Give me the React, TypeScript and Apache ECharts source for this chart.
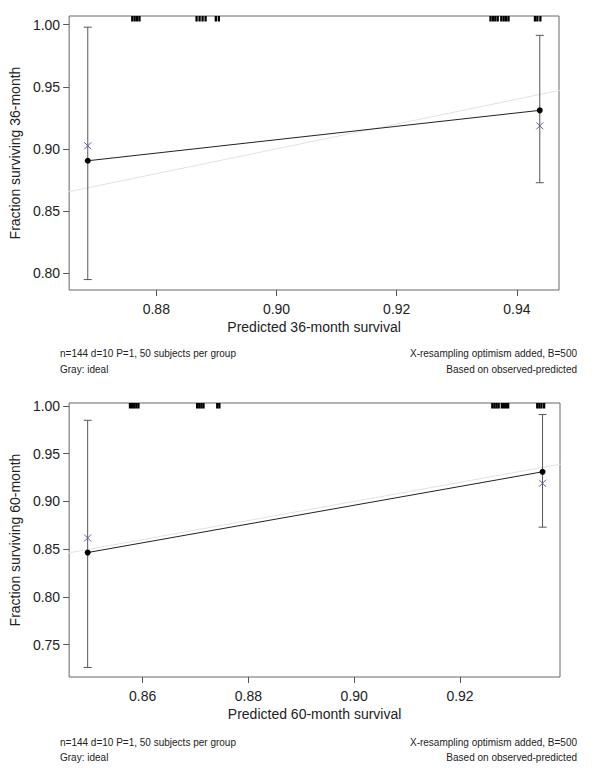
import React, { useEffect, useRef } from "react";
import * as echarts from "echarts";

// ---- Plot 1: 36-month ----
const predicted36 = [0.8686, 0.9438];
const observed36 = [0.8904, 0.931];
const corrected36 = [0.9025, 0.9185];
const lower36 = [0.7947, 0.8727];
const upper36 = [0.998, 0.9914];
const rug36 = [0.876, 0.8764, 0.8768, 0.8772, 0.8867, 0.8872, 0.8877, 0.8882, 0.8899, 0.8904, 0.9356, 0.936, 0.9364, 0.9368, 0.9374, 0.9378, 0.9382, 0.9386, 0.943, 0.9434, 0.9439];
const xTicks36 = [0.88, 0.9, 0.92, 0.94];
const yTicks36 = [0.8, 0.85, 0.9, 0.95, 1.0];

// ---- Plot 2: 60-month ----
const predicted60 = [0.8496, 0.9356];
const observed60 = [0.8464, 0.931];
const corrected60 = [0.8616, 0.919];
const lower60 = [0.726, 0.873];
const upper60 = [0.985, 0.991];
const rug60 = [0.8576, 0.858, 0.8584, 0.8588, 0.8592, 0.8703, 0.8707, 0.8711, 0.8715, 0.8741, 0.8745, 0.9261, 0.9265, 0.9269, 0.9273, 0.9279, 0.9283, 0.9287, 0.9291, 0.9346, 0.935, 0.9354, 0.9359];
const xTicks60 = [0.86, 0.88, 0.9, 0.92];
const yTicks60 = [0.75, 0.8, 0.85, 0.9, 0.95, 1.0];

const FONT = "Liberation Sans";
const TXT = "#222";

function App() {
  const ref = useRef<HTMLDivElement>(null);
  useEffect(() => {
    if (!ref.current) return;
    const chart = echarts.init(ref.current, undefined, { renderer: "svg" });

    const errRender = (params: any, api: any) => {
      const x = api.value(0);
      const lo = api.coord([x, api.value(1)]);
      const hi = api.coord([x, api.value(2)]);
      const w = 4;
      const st = { stroke: "#555", lineWidth: 1 };
      return {
        type: "group",
        children: [
          { type: "line", shape: { x1: lo[0], y1: lo[1], x2: hi[0], y2: hi[1] }, style: st },
          { type: "line", shape: { x1: lo[0] - w, y1: lo[1], x2: lo[0] + w, y2: lo[1] }, style: st },
          { type: "line", shape: { x1: hi[0] - w, y1: hi[1], x2: hi[0] + w, y2: hi[1] }, style: st },
        ],
      };
    };
    const crossRender = (params: any, api: any) => {
      const p = api.coord([api.value(0), api.value(1)]);
      const s = 3.5;
      const st = { stroke: "#5a5aa8", lineWidth: 1 };
      return {
        type: "group",
        children: [
          { type: "line", shape: { x1: p[0] - s, y1: p[1] - s, x2: p[0] + s, y2: p[1] + s }, style: st },
          { type: "line", shape: { x1: p[0] - s, y1: p[1] + s, x2: p[0] + s, y2: p[1] - s }, style: st },
        ],
      };
    };
    const rugRender = (params: any, api: any) => {
      const p = api.coord([api.value(0), api.value(1)]);
      const top = params.coordSys.y;
      return {
        type: "line",
        shape: { x1: p[0], y1: top, x2: p[0], y2: top + 5.5 },
        style: { stroke: "#000", lineWidth: 2.3 },
      };
    };

    const mkX = (idx: number, min: number, max: number, ticks: number[], name: string) => ({
      type: "value",
      gridIndex: idx,
      min,
      max,
      name,
      nameLocation: "middle",
      nameGap: 30,
      nameTextStyle: { fontSize: 14, color: TXT, fontFamily: FONT },
      axisLine: { show: false },
      splitLine: { show: false },
      axisTick: { show: true, customValues: ticks, length: 6, lineStyle: { color: "#555" } },
      axisLabel: {
        customValues: ticks,
        formatter: (v: number) => v.toFixed(2),
        fontSize: 14,
        color: TXT,
        fontFamily: FONT,
        margin: 12,
      },
    });
    const mkY = (idx: number, min: number, max: number, ticks: number[], name: string, gap: number) => ({
      type: "value",
      gridIndex: idx,
      min,
      max,
      name,
      nameLocation: "middle",
      nameGap: gap,
      nameTextStyle: { fontSize: 14, color: TXT, fontFamily: FONT },
      axisLine: { show: false },
      splitLine: { show: false },
      axisTick: { show: true, customValues: ticks, length: 6, lineStyle: { color: "#555" } },
      axisLabel: {
        customValues: ticks,
        formatter: (v: number) => v.toFixed(2),
        fontSize: 14,
        color: TXT,
        fontFamily: FONT,
        margin: 9,
      },
    });

    const xr36: [number, number] = [0.8655, 0.947];
    const yr36: [number, number] = [0.7863, 1.007];
    const xr60: [number, number] = [0.8461, 0.9389];
    const yr60: [number, number] = [0.716, 1.0031];

    const mkSeries = (
      idx: number,
      pred: number[],
      obs: number[],
      corr: number[],
      lo: number[],
      hi: number[],
      rug: number[],
      yTop: number
    ) => [
      {
        type: "line",
        xAxisIndex: idx,
        yAxisIndex: idx,
        data: [
          [0.7, 0.7],
          [1.0, 1.0],
        ],
        showSymbol: false,
        symbol: "none",
        lineStyle: { color: "#e2e2e2", width: 1 },
        clip: true,
        z: 1,
      },
      {
        type: "custom",
        xAxisIndex: idx,
        yAxisIndex: idx,
        data: pred.map((p, i) => [p, lo[i], hi[i]]),
        renderItem: errRender,
        z: 2,
      },
      {
        type: "line",
        xAxisIndex: idx,
        yAxisIndex: idx,
        data: pred.map((p, i) => [p, obs[i]]),
        symbol: "circle",
        symbolSize: 6,
        itemStyle: { color: "#000" },
        lineStyle: { color: "#222", width: 1 },
        z: 3,
      },
      {
        type: "custom",
        xAxisIndex: idx,
        yAxisIndex: idx,
        data: pred.map((p, i) => [p, corr[i]]),
        renderItem: crossRender,
        z: 4,
      },
      {
        type: "custom",
        xAxisIndex: idx,
        yAxisIndex: idx,
        data: rug.map((r) => [r, yTop]),
        renderItem: rugRender,
        z: 4,
      },
    ];

    const foot = (y: number, left: string, right: string) => [
      { type: "text", left: 60, top: y, style: { text: left, fontSize: 10, fill: TXT, fontFamily: FONT } },
      { type: "text", right: 34, top: y, style: { text: right, fontSize: 10, fill: TXT, fontFamily: FONT, textAlign: "right" } },
    ];

    chart.setOption({
      animation: false,
      backgroundColor: "#fff",
      grid: [
        { left: 64.5, top: 16, width: 494.5, height: 274, show: true, borderColor: "#666", borderWidth: 1 },
        { left: 66, top: 403, width: 494, height: 274, show: true, borderColor: "#666", borderWidth: 1 },
      ],
      xAxis: [
        mkX(0, xr36[0], xr36[1], xTicks36, "Predicted 36-month survival"),
        mkX(1, xr60[0], xr60[1], xTicks60, "Predicted 60-month survival"),
      ],
      yAxis: [
        mkY(0, yr36[0], yr36[1], yTicks36, "Fraction surviving 36-month", 44.5),
        mkY(1, yr60[0], yr60[1], yTicks60, "Fraction surviving 60-month", 46),
      ],
      series: [
        ...mkSeries(0, predicted36, observed36, corrected36, lower36, upper36, rug36, yr36[1]),
        ...mkSeries(1, predicted60, observed60, corrected60, lower60, upper60, rug60, yr60[1]),
      ],
      graphic: [
        ...foot(348, "n=144 d=10 P=1, 50 subjects per group", "X-resampling optimism added, B=500"),
        ...foot(364, "Gray: ideal", "Based on observed-predicted"),
        ...foot(737, "n=144 d=10 P=1, 50 subjects per group", "X-resampling optimism added, B=500"),
        ...foot(752, "Gray: ideal", "Based on observed-predicted"),
      ],
    });
    return () => chart.dispose();
  }, []);
  return (
    <div
      ref={ref}
      style={{ position: "absolute", left: 0, top: 0, width: 611, height: 768 }}
    />
  );
}

export default App;
